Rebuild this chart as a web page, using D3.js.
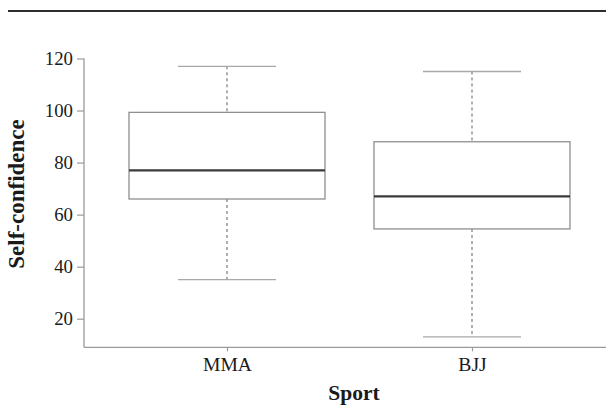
<!DOCTYPE html>
<html>
<head>
<meta charset="utf-8">
<script src="https://cdn.jsdelivr.net/npm/d3@7"></script>
<style>
  html, body { margin: 0; padding: 0; background: #fff; }
  svg { display: block; }
  text { font-family: "Liberation Serif", "Times New Roman", serif; fill: #1a1a1a; }
</style>
</head>
<body>
<svg id="chart" width="606" height="406"></svg>
<script>
// Self-confidence by sport: five-number summaries per group
const sports = ["MMA", "BJJ"];
const whiskerLow  = [35, 13];
const quartile1   = [66, 54.5];
const medians     = [77, 67];
const quartile3   = [99.3, 88];
const whiskerHigh = [117, 115];
const yTicks = [20, 40, 60, 80, 100, 120];

const boxes = sports.map((s, i) => ({
  sport: s, lo: whiskerLow[i], q1: quartile1[i], med: medians[i], q3: quartile3[i], hi: whiskerHigh[i]
}));

const svg = d3.select("#chart");
const plotLeft = 84, plotRight = 606, plotTop = 58.5, plotBottom = 347.3;

const y = d3.scaleLinear().domain([9, 120]).range([plotBottom, plotTop]);
const x = d3.scalePoint().domain(sports).range([227, 472]);
const boxHalf = 98, capHalf = 49;

// rule across the top of the figure
svg.append("line")
  .attr("x1", 8).attr("x2", 606).attr("y1", 11).attr("y2", 11)
  .attr("stroke", "#2e2e2e").attr("stroke-width", 1.8);

// y axis
const yAxis = svg.append("g")
  .attr("transform", `translate(${plotLeft},0)`)
  .call(d3.axisLeft(y).tickValues(yTicks).tickSize(7).tickPadding(4).tickSizeOuter(0));
yAxis.select(".domain").remove();
yAxis.append("line").attr("x1", 0).attr("x2", 0).attr("y1", y(120)).attr("y2", plotBottom)
  .attr("stroke", "#9a9a9a").attr("stroke-width", 1.3);
yAxis.selectAll(".tick line").attr("stroke", "#9a9a9a").attr("stroke-width", 1.2);
yAxis.selectAll(".tick text").attr("font-size", 18.8).attr("fill", "#1a1a1a")
  .style("font-family", "'Liberation Serif', serif");

// x axis
const xAxis = svg.append("g")
  .attr("transform", `translate(0,${plotBottom})`)
  .call(d3.axisBottom(x).tickSize(4).tickPadding(6).tickSizeOuter(0));
xAxis.select(".domain").remove();
xAxis.append("line").attr("x1", plotLeft).attr("x2", plotRight).attr("y1", 0).attr("y2", 0)
  .attr("stroke", "#9a9a9a").attr("stroke-width", 1.3);
xAxis.selectAll(".tick line").attr("stroke", "#9a9a9a").attr("stroke-width", 1.2);
xAxis.selectAll(".tick text").attr("font-size", 19.6).attr("fill", "#1a1a1a")
  .style("font-family", "'Liberation Serif', serif");

// axis titles
svg.append("text")
  .attr("x", 354).attr("y", 400)
  .attr("text-anchor", "middle")
  .attr("font-size", 21.5).attr("font-weight", "bold")
  .text("Sport");
svg.append("text")
  .attr("transform", "translate(24,194) rotate(-90)")
  .attr("text-anchor", "middle")
  .attr("font-size", 23).attr("font-weight", "bold")
  .text("Self-confidence");

// box plots
const g = svg.append("g").selectAll("g").data(boxes).join("g");

// dashed whisker stems
g.append("line")
  .attr("x1", d => x(d.sport)).attr("x2", d => x(d.sport))
  .attr("y1", d => y(d.hi)).attr("y2", d => y(d.q3))
  .attr("stroke", "#7a7a7a").attr("stroke-width", 1.2).attr("stroke-dasharray", "3,3");
g.append("line")
  .attr("x1", d => x(d.sport)).attr("x2", d => x(d.sport))
  .attr("y1", d => y(d.q1)).attr("y2", d => y(d.lo))
  .attr("stroke", "#7a7a7a").attr("stroke-width", 1.2).attr("stroke-dasharray", "3,3");

// whisker caps
["hi", "lo"].forEach(k => {
  g.append("line")
    .attr("x1", d => x(d.sport) - capHalf).attr("x2", d => x(d.sport) + capHalf)
    .attr("y1", d => y(d[k])).attr("y2", d => y(d[k]))
    .attr("stroke", "#a8a8a8").attr("stroke-width", 1.3);
});

// boxes
g.append("rect")
  .attr("x", d => x(d.sport) - boxHalf).attr("width", boxHalf * 2)
  .attr("y", d => y(d.q3)).attr("height", d => y(d.q1) - y(d.q3))
  .attr("fill", "#fff").attr("stroke", "#8f8f8f").attr("stroke-width", 1.3);

// medians
g.append("line")
  .attr("x1", d => x(d.sport) - boxHalf).attr("x2", d => x(d.sport) + boxHalf)
  .attr("y1", d => y(d.med)).attr("y2", d => y(d.med))
  .attr("stroke", "#3a3a3a").attr("stroke-width", 2.2);
</script>
</body>
</html>
